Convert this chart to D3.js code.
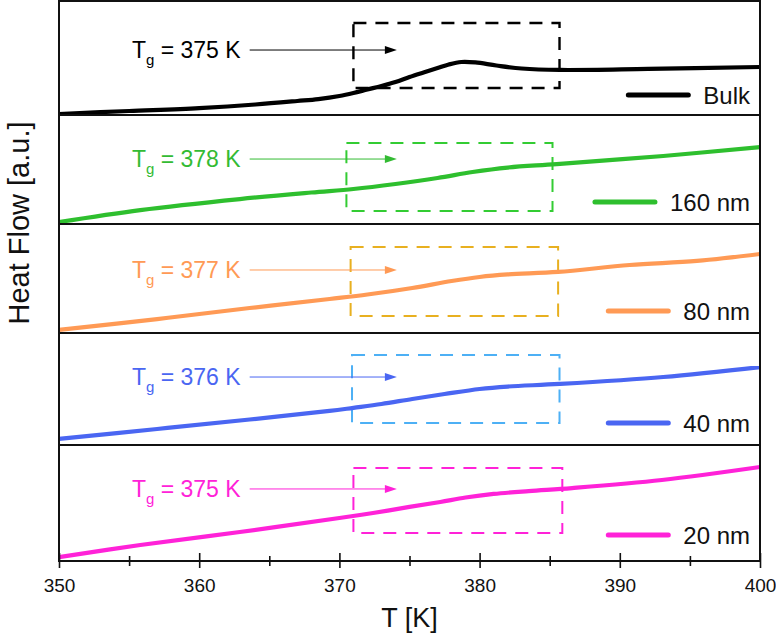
<!DOCTYPE html>
<html><head><meta charset="utf-8">
<script src="https://cdn.jsdelivr.net/npm/d3@7"></script>
<style>body{margin:0;background:#fff} svg{font-family:"Liberation Sans",Arial,sans-serif}</style>
</head><body><svg id="c" width="776" height="635"></svg>
<script>
// ---------------- data ----------------
const xTicks = [350, 360, 370, 380, 390, 400];
const xMinor = [355, 365, 375, 385, 395];
const seriesNames = ["Bulk", "160 nm", "80 nm", "40 nm", "20 nm"];
const tgLabels = ["375 K", "378 K", "377 K", "376 K", "375 K"];

const bulkT  = [350, 355, 360, 364, 367, 368.5, 370, 371, 372, 373, 374, 375, 376, 377, 377.8, 378.7, 379.7, 381.2, 383, 385.7, 392, 400];
const bulkHF = [0.9, 3.5, 6.1, 9.2, 12.3, 14.0, 16.7, 19.3, 22.4, 25.4, 28.9, 33.3, 37.3, 41.2, 44.3, 46.5, 46.1, 43.4, 40.8, 39.5, 40.4, 42.1];

const nm160T  = [350, 355.8, 362.9, 368, 371, 374, 377, 379.5, 382, 385.5, 393.1, 400];
const nm160HF = [1.8, 12.8, 22.9, 28.9, 32.1, 36.7, 42.2, 47.7, 51.8, 55.0, 62.4, 70.6];

const nm80T  = [350, 357, 363.6, 369.3, 372, 375.2, 378, 380, 382, 385.6, 390.7, 395.5, 400];
const nm80HF = [2.8, 12.8, 22.9, 31.2, 35.3, 41.3, 47.7, 51.4, 53.7, 56.0, 62.4, 66.1, 72.5];

const nm40T  = [350, 357, 363.6, 369.3, 371, 373, 375.2, 377.5, 380, 382, 385.7, 393.1, 400];
const nm40HF = [5.4, 14.3, 22.8, 30.4, 33.2, 36.6, 41.1, 45.5, 50.0, 52.2, 54.5, 60.7, 69.6];

const nm20T  = [350, 355.8, 362.9, 370, 372.4, 375, 377.2, 379, 381, 383.5, 386.6, 393, 400];
const nm20HF = [3.4, 13.8, 25.0, 37.1, 41.4, 46.6, 50.9, 54.7, 57.8, 60.3, 62.9, 69.8, 81.0];

const seriesT  = [bulkT, nm160T, nm80T, nm40T, nm20T];
const seriesHF = [bulkHF, nm160HF, nm80HF, nm40HF, nm20HF];

// ---------------- layout / styles ----------------
const left = 59, right = 760;
const panelEdges = [1, 115, 224, 333, 445, 561];
const lineColors = ["#000000", "#2EBF2E", "#FF9A55", "#4A66F2", "#FF22D8"];
const boxColors  = ["#000000", "#33CC33", "#E8B020", "#4DB0F5", "#FF22D8"];
const textColors = ["#000000", "#33BB33", "#FF9A55", "#4A66F2", "#FF22D8"];
// box extents [T0, T1, hf0, hf1]
const boxes = [[371.0, 385.7, 23.7, 80.7], [370.5, 385.2, 11.9, 74.3], [370.8, 385.6, 15.6, 78.9], [370.9, 385.7, 19.6, 80.4], [371.0, 385.9, 24.1, 80.2]];
const arrowY = [57.0, 59.6, 57.8, 60.7, 62.1];
const legendY = [17.5, 20.2, 20.2, 19.6, 22.4];
const arrowT0 = 363.6, arrowT1 = 374.1, labelT = 355.2;

const svg = d3.select("#c");
const x = d3.scaleLinear().domain([350, 400]).range([left, right]);

seriesNames.forEach((name, i) => {
  const top = panelEdges[i], bot = panelEdges[i + 1];
  const y = d3.scaleLinear().domain([0, 100]).range([bot, top]);
  const g = svg.append("g");
  const pts = seriesT[i].map((t, k) => [t, seriesHF[i][k]]);
  const b = boxes[i];
  g.append("rect")
    .attr("x", x(b[0])).attr("y", y(b[3]))
    .attr("width", x(b[1]) - x(b[0])).attr("height", y(b[2]) - y(b[3]))
    .attr("fill", "none").attr("stroke", boxColors[i])
    .attr("stroke-width", i === 0 ? 2.4 : 2).attr("stroke-dasharray", "13,9");
  g.append("path").datum(pts)
    .attr("d", d3.line().x(d => x(d[0])).y(d => y(d[1])).curve(d3.curveCatmullRom.alpha(0.5)))
    .attr("fill", "none").attr("stroke", lineColors[i]).attr("stroke-width", 4.2)
    .attr("stroke-linejoin", "round");
  const ay = y(arrowY[i]);
  const t = g.append("text").attr("x", x(labelT)).attr("y", ay + 8)
    .attr("fill", textColors[i]).attr("font-size", 23);
  t.append("tspan").text("T");
  t.append("tspan").attr("font-size", 15).attr("dy", 7).text("g");
  t.append("tspan").attr("dy", -7).text(" = " + tgLabels[i]);
  g.append("line").attr("x1", x(arrowT0)).attr("x2", x(arrowT1) - 10)
    .attr("y1", ay).attr("y2", ay).attr("stroke", textColors[i]).attr("stroke-width", 1);
  const tip = x(arrowT1);
  g.append("path").attr("d", `M${tip},${ay}L${tip - 12},${ay - 4}L${tip - 12},${ay + 4}Z`)
    .attr("fill", textColors[i]);
  const ly = y(legendY[i]);
  const lt = g.append("text").attr("x", 750).attr("y", ly + 9).attr("text-anchor", "end")
    .attr("font-size", 24).attr("fill", "#111").text(name);
  const tw = lt.node().getComputedTextLength();
  g.append("line").attr("x1", 750 - tw - 75).attr("x2", 750 - tw - 15)
    .attr("y1", ly).attr("y2", ly).attr("stroke", lineColors[i])
    .attr("stroke-width", 5).attr("stroke-linecap", "round");
  if (i > 0) g.append("line").attr("x1", left).attr("x2", right).attr("y1", top).attr("y2", top)
    .attr("stroke", "#111").attr("stroke-width", 2);
});

svg.append("rect").attr("x", left).attr("y", panelEdges[0]).attr("width", right - left)
  .attr("height", panelEdges[5] - panelEdges[0]).attr("fill", "none")
  .attr("stroke", "#111").attr("stroke-width", 2);

const axisY = panelEdges[5];
const ax = svg.append("g").attr("transform", `translate(0,${axisY})`)
  .call(d3.axisBottom(x).tickValues(xTicks).tickSize(7).tickPadding(11).tickFormat(d3.format("d")));
ax.select(".domain").remove();
ax.selectAll(".tick line").attr("y1", -8).attr("y2", 7).attr("stroke", "#111").attr("stroke-width", 1.6);
ax.selectAll(".tick text").attr("font-size", 19).attr("font-family", "Liberation Sans, Arial, sans-serif").attr("fill", "#111");
const am = svg.append("g").attr("transform", `translate(0,${axisY})`)
  .call(d3.axisBottom(x).tickValues(xMinor).tickSize(5).tickFormat(""));
am.select(".domain").remove();
am.selectAll(".tick line").attr("y1", -5).attr("y2", 5).attr("stroke", "#111").attr("stroke-width", 1.6);

svg.append("text").attr("x", (left + right) / 2).attr("y", 627).attr("text-anchor", "middle")
  .attr("font-size", 27).attr("fill", "#111").text("T [K]");
svg.append("text").attr("transform", `translate(29,223) rotate(-90)`).attr("text-anchor", "middle")
  .attr("font-size", 29).attr("fill", "#111").text("Heat Flow [a.u.]");
</script></body></html>
